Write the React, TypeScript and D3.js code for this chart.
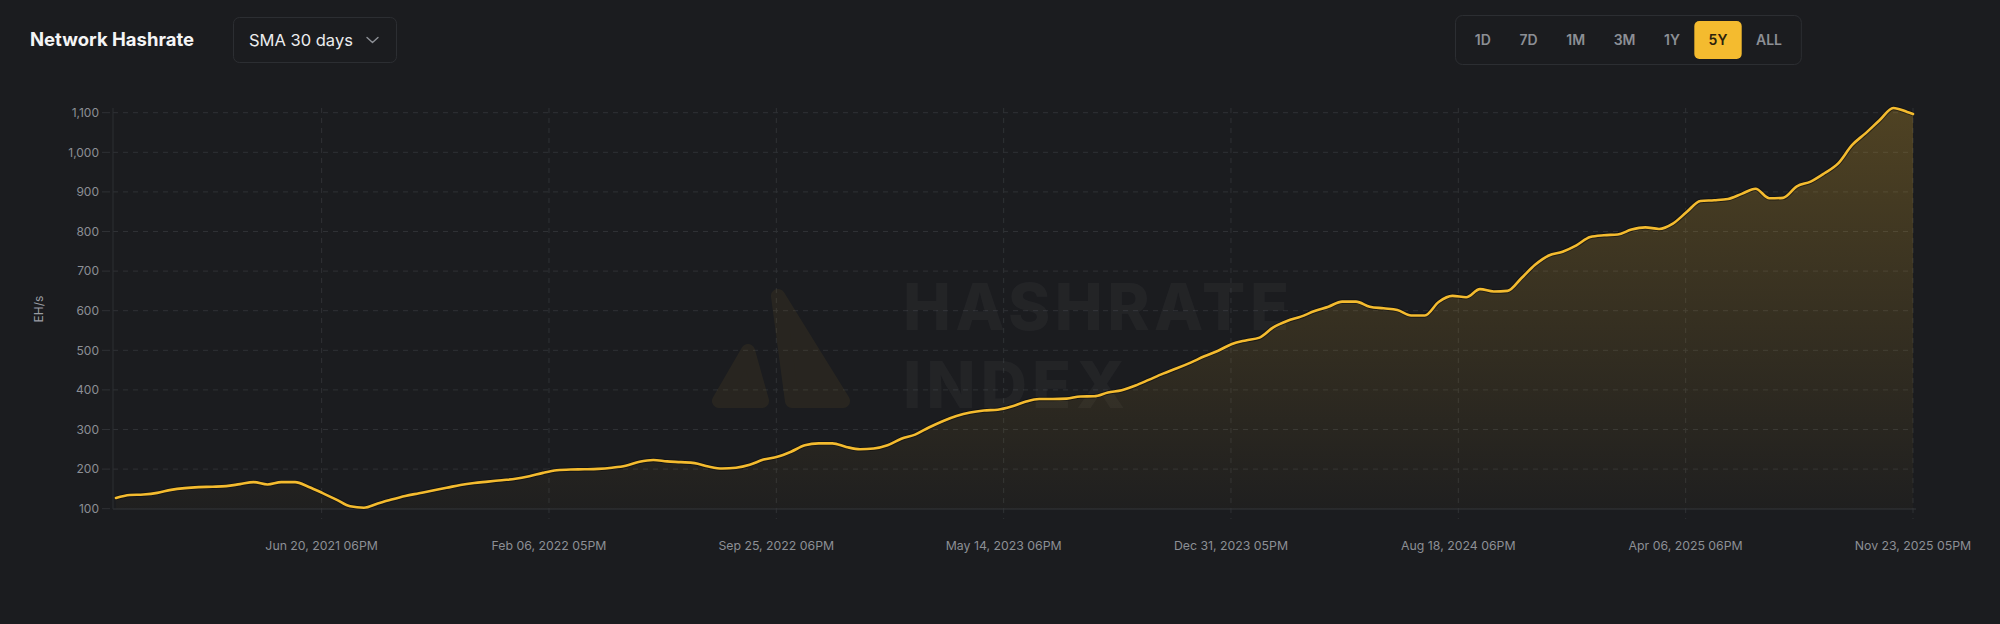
import { useEffect, useRef } from 'react';
import * as d3 from 'd3';

const WIDTH = 2000;
const HEIGHT = 624;

// first reading and step between readings (SMA 30 days)
const firstDate = "2020-11-23T23:00:00Z";
const lastDate = "2025-11-23T23:00:00Z";
const stepDays = 14;

// EH/s, one reading every 14 days, last one on Nov 23 2025
const hashrate = [
  127, 134.6, 136, 140, 147.5, 152, 154.5, 155.5, 157, 162,
  167, 161, 167, 167, 155, 139.5, 123, 106, 102.5, 113,
  123, 132, 139, 146, 152.7, 160, 165, 168.3, 172, 175.5,
  182, 190.5, 197, 199, 199.5, 200.5, 203.5, 208.5, 218.5, 223,
  219.5, 217.5, 215, 206.5, 201.5, 203.5, 211, 224, 231, 244,
  260, 265, 265, 256, 250, 252, 260, 276.5, 287, 305,
  321, 334, 343, 348, 350, 358, 370, 377, 377, 378,
  383.5, 384, 393.5, 399, 411, 426, 441, 454.5, 469, 485,
  499, 516, 525, 532, 558, 574, 585, 599, 610, 623,
  623, 610, 606, 602, 588, 588, 622, 637.5, 634, 654.5,
  648.5, 650, 682, 716, 739.5, 749, 765, 786, 790.5, 792.5,
  805, 810.5, 806.5, 820, 849, 877, 879, 882, 895, 908,
  884, 885, 914, 926, 947, 972, 1018, 1048.5, 1081, 1112,
  1102, 1096.7,
];

const xTickDates = [
  "2021-06-20T23:00:00Z",
  "2022-02-06T23:00:00Z",
  "2022-09-25T23:00:00Z",
  "2023-05-14T23:00:00Z",
  "2023-12-31T23:00:00Z",
  "2024-08-18T23:00:00Z",
  "2025-04-06T23:00:00Z",
  "2025-11-23T23:00:00Z",
];
const xTickLabels = [
  "Jun 20, 2021 06PM",
  "Feb 06, 2022 05PM",
  "Sep 25, 2022 06PM",
  "May 14, 2023 06PM",
  "Dec 31, 2023 05PM",
  "Aug 18, 2024 06PM",
  "Apr 06, 2025 06PM",
  "Nov 23, 2025 05PM",
];
const yTicks = [100, 200, 300, 400, 500, 600, 700, 800, 900, 1000, 1100];

const ranges = ["1D", "7D", "1M", "3M", "1Y", "5Y", "ALL"];
const activeRange = "5Y";

const BG = "#1b1c1f";
const GOLD = "#f4bb2f";
const GRID = "#2f3135";
const MUTED = "#8c8f95";
const FONT = "Inter, 'Noto Sans', sans-serif";

export default function App() {
  const svgRef = useRef<SVGSVGElement>(null);

  useEffect(() => {
    if (!svgRef.current) return;
    document.body.style.margin = "0";
    document.body.style.background = BG;

    const svg = d3.select(svgRef.current);
    svg.selectAll("*").remove();

    const start = new Date(firstDate);
    const end = new Date(lastDate);
    const dates = d3.range(hashrate.length - 1).map(i => d3.utcDay.offset(start, i * stepDays));
    dates.push(end);
    const data = dates.map((d, i) => ({ date: d, value: hashrate[i] }));

    const plot = { left: 113, right: 1913, top: 108, bottom: 509 };

    const x = d3.scaleUtc()
      .domain([d3.utcDay.offset(start, -3), end])
      .range([plot.left, plot.right]);
    const y = d3.scaleLinear()
      .domain([100, 1100])
      .range([508.7, 112.7]);

    svg.append("rect").attr("width", WIDTH).attr("height", HEIGHT).attr("fill", BG);

    // header
    svg.append("text")
      .attr("x", 30).attr("y", 46)
      .attr("font-family", FONT).attr("font-size", 18.5).attr("font-weight", 700)
      .attr("fill", "#f4f4f5")
      .text("Network Hashrate");

    svg.append("rect")
      .attr("x", 233.5).attr("y", 17.5).attr("width", 163).attr("height", 45).attr("rx", 6)
      .attr("fill", "none").attr("stroke", "#2c2e32");
    svg.append("text")
      .attr("x", 249).attr("y", 46)
      .attr("font-family", FONT).attr("font-size", 16.5).attr("font-weight", 400)
      .attr("fill", "#ececee")
      .text("SMA 30 days");
    svg.append("path")
      .attr("d", "M367,37.5 L372.5,42.5 L378,37.5")
      .attr("fill", "none").attr("stroke", "#8f9298").attr("stroke-width", 1.4)
      .attr("stroke-linecap", "round").attr("stroke-linejoin", "round");

    // range selector
    const rg = svg.append("g");
    const box = rg.append("rect")
      .attr("y", 15.5).attr("height", 49).attr("rx", 7)
      .attr("fill", "none").attr("stroke", "#2c2e32");
    const pad = 14.3;
    let cursor = 1460.5;
    ranges.forEach(r => {
      const t = rg.append("text")
        .attr("y", 45)
        .attr("text-anchor", "middle")
        .attr("font-family", FONT).attr("font-size", 14).attr("font-weight", 600)
        .attr("fill", r === activeRange ? "#2b220c" : MUTED)
        .text(r);
      const w = (t.node() as SVGTextElement).getComputedTextLength() + pad * 2;
      t.attr("x", cursor + w / 2);
      if (r === activeRange) {
        rg.insert("rect", "text")
          .attr("x", cursor).attr("y", 21).attr("width", w).attr("height", 38).attr("rx", 5)
          .attr("fill", GOLD);
      }
      cursor += w;
    });
    box.attr("x", 1455.5).attr("width", cursor + 5 - 1455.5);

    // grid
    const grid = svg.append("g");
    grid.selectAll(".hgrid")
      .data(yTicks.filter(t => t > 100))
      .enter().append("line")
      .attr("x1", plot.left).attr("x2", plot.right)
      .attr("y1", d => y(d)).attr("y2", d => y(d))
      .attr("stroke", GRID).attr("stroke-dasharray", "5,5");
    grid.selectAll(".vgrid")
      .data(xTickDates)
      .enter().append("line")
      .attr("x1", d => x(new Date(d))).attr("x2", d => x(new Date(d)))
      .attr("y1", plot.top).attr("y2", plot.bottom + 10)
      .attr("stroke", GRID).attr("stroke-dasharray", "5,5");

    // watermark
    const wm = svg.append("g");
    const logo = wm.append("g").attr("opacity", 0.06);
    logo.append("path")
      .attr("d", "M778,296 L792,401 L843,401 Z")
      .attr("fill", GOLD).attr("stroke", GOLD).attr("stroke-width", 14).attr("stroke-linejoin", "round");
    logo.append("path")
      .attr("d", "M748,351 L719,401 L762,401 Z")
      .attr("fill", GOLD).attr("stroke", GOLD).attr("stroke-width", 14).attr("stroke-linejoin", "round");
    wm.append("text")
      .attr("x", 903).attr("y", 330)
      .attr("font-family", FONT).attr("font-size", 64).attr("font-weight", 800)
      .attr("textLength", 386).attr("lengthAdjust", "spacing")
      .attr("fill", "#ffffff").attr("fill-opacity", 0.035)
      .text("HASHRATE");
    wm.append("text")
      .attr("x", 903).attr("y", 408)
      .attr("font-family", FONT).attr("font-size", 64).attr("font-weight", 800)
      .attr("textLength", 222).attr("lengthAdjust", "spacing")
      .attr("fill", "#ffffff").attr("fill-opacity", 0.035)
      .text("INDEX");

    // area + line
    const defs = svg.append("defs");
    const grad = defs.append("linearGradient")
      .attr("id", "hashFill")
      .attr("gradientUnits", "userSpaceOnUse")
      .attr("x1", 0).attr("x2", 0).attr("y1", plot.top).attr("y2", plot.bottom);
    grad.append("stop").attr("offset", "0%").attr("stop-color", GOLD).attr("stop-opacity", 0.24);
    grad.append("stop").attr("offset", "100%").attr("stop-color", GOLD).attr("stop-opacity", 0.02);

    const area = d3.area<{ date: Date; value: number }>()
      .x(d => x(d.date)).y0(plot.bottom).y1(d => y(d.value))
      .curve(d3.curveMonotoneX);
    const line = d3.line<{ date: Date; value: number }>()
      .x(d => x(d.date)).y(d => y(d.value))
      .curve(d3.curveMonotoneX);

    svg.append("path").datum(data).attr("d", area).attr("fill", "url(#hashFill)");

    // axes lines
    svg.append("line")
      .attr("x1", plot.left).attr("x2", plot.right + 3)
      .attr("y1", plot.bottom).attr("y2", plot.bottom)
      .attr("stroke", "#34363b").attr("stroke-width", 1.2);
    svg.append("line")
      .attr("x1", plot.left).attr("x2", plot.left)
      .attr("y1", plot.top).attr("y2", plot.bottom)
      .attr("stroke", "#2c2e32");

    svg.append("path").datum(data)
      .attr("d", line)
      .attr("fill", "none")
      .attr("stroke", "#0d0d0e").attr("stroke-opacity", 0.6).attr("stroke-width", 4.5)
      .attr("stroke-linejoin", "round");
    svg.append("path").datum(data)
      .attr("d", line)
      .attr("fill", "none")
      .attr("stroke", GOLD).attr("stroke-width", 2.6)
      .attr("stroke-linejoin", "round").attr("stroke-linecap", "round");

    // y axis
    const yAxis = svg.append("g");
    yAxis.selectAll(".ytick")
      .data(yTicks)
      .enter().append("line")
      .attr("x1", 102).attr("x2", 110)
      .attr("y1", d => y(d)).attr("y2", d => y(d))
      .attr("stroke", GRID);
    yAxis.selectAll(".ylabel")
      .data(yTicks)
      .enter().append("text")
      .attr("x", 99).attr("y", d => y(d))
      .attr("dy", "0.35em")
      .attr("text-anchor", "end")
      .attr("font-family", FONT).attr("font-size", 12)
      .attr("fill", MUTED)
      .text(d => d3.format(",")(d));
    svg.append("text")
      .attr("transform", "translate(43,309) rotate(-90)")
      .attr("text-anchor", "middle")
      .attr("font-family", FONT).attr("font-size", 12)
      .attr("fill", "#9a9da3")
      .text("EH/s");

    // x axis labels
    svg.selectAll(".xlabel")
      .data(xTickDates)
      .enter().append("text")
      .attr("x", d => x(new Date(d))).attr("y", 549.5)
      .attr("text-anchor", "middle")
      .attr("font-family", FONT).attr("font-size", 12.3)
      .attr("fill", MUTED)
      .text((d, i) => xTickLabels[i]);
  }, []);

  return (
    <svg
      ref={svgRef}
      width={WIDTH}
      height={HEIGHT}
      viewBox={`0 0 ${WIDTH} ${HEIGHT}`}
      style={{ display: "block", position: "absolute", left: 0, top: 0 }}
    />
  );
}
